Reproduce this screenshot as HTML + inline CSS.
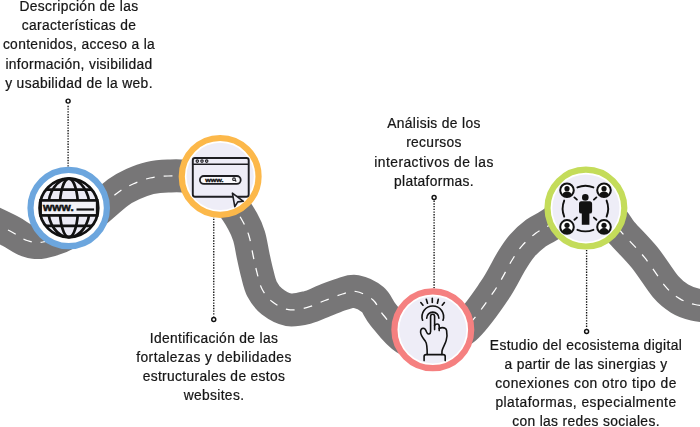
<!DOCTYPE html>
<html><head><meta charset="utf-8">
<style>
html,body{margin:0;padding:0;background:#fff;}
body{width:700px;height:427px;position:relative;overflow:hidden;}
svg{position:absolute;left:0;top:0;}
.t{position:absolute;font-family:"Liberation Sans",sans-serif;font-size:13.8px;letter-spacing:0.35px;line-height:19px;color:#161616;-webkit-text-stroke:0.22px #161616;text-align:center;white-space:nowrap;will-change:transform;}
</style></head><body>
<svg width="700" height="427" viewBox="0 0 700 427">
  <path d="M-15.0,219.0 C-10.8,221.0 3.0,227.4 10.0,231.0 C17.0,234.6 21.5,238.7 27.0,240.5 C32.5,242.3 35.8,243.4 43.0,242.0 C50.2,240.6 61.3,237.0 70.0,232.0 C78.7,227.0 87.0,218.6 95.0,212.0 C103.0,205.4 111.7,197.2 118.0,192.5 C124.3,187.8 127.7,186.4 133.0,184.0 C138.3,181.6 144.2,179.3 150.0,178.0 C155.8,176.7 161.3,176.2 168.0,176.0 C174.7,175.8 182.7,175.2 190.0,177.0 C197.3,178.8 205.2,182.5 212.0,187.0 C218.8,191.5 225.9,198.3 231.0,204.0 C236.1,209.7 239.5,215.7 242.5,221.0 C245.5,226.3 247.2,230.3 249.0,236.0 C250.8,241.7 251.7,248.9 253.0,255.0 C254.3,261.1 255.5,266.9 257.0,272.6 C258.5,278.3 259.5,284.2 262.0,289.0 C264.5,293.8 267.6,298.1 272.0,301.5 C276.4,304.9 282.7,308.7 288.6,309.7 C294.5,310.7 301.3,308.9 307.4,307.4 C313.5,305.9 319.1,302.7 325.0,300.5 C330.9,298.3 337.3,295.5 342.5,294.0 C347.7,292.5 350.9,290.6 356.0,291.5 C361.1,292.4 368.2,295.8 372.8,299.7 C377.4,303.6 377.9,308.6 383.3,315.0 C388.7,321.4 396.7,333.0 405.0,338.0 C413.3,343.0 423.0,346.7 433.0,345.0 C443.0,343.3 454.8,336.9 465.0,328.0 C475.2,319.1 486.2,302.5 494.0,291.3 C501.8,280.1 506.8,268.6 511.5,261.0 C516.2,253.4 517.9,250.5 522.0,245.8 C526.1,241.1 531.5,236.4 536.0,233.0 C540.5,229.6 543.7,228.9 549.0,225.5 C554.3,222.1 561.8,215.2 568.0,212.5 C574.2,209.8 579.0,208.1 586.0,209.0 C593.0,209.9 604.0,214.0 610.0,218.0 C616.0,222.0 616.2,226.2 622.0,232.8 C627.8,239.4 637.2,248.4 644.5,257.4 C651.8,266.4 659.8,279.8 665.6,286.7 C671.5,293.6 674.7,295.6 679.6,298.6 C684.5,301.6 688.9,303.1 694.8,304.5 C700.7,305.9 711.6,306.6 715.0,307.0" fill="none" stroke="#777677" stroke-width="33"/>
  <g fill="none" stroke="#fff" stroke-width="1.25" stroke-dasharray="8.8 9.2"><path d="M-15.0,219.0 C-10.8,221.0 3.0,227.4 10.0,231.0 C17.0,234.6 21.5,238.7 27.0,240.5 C32.5,242.3 35.8,243.4 43.0,242.0 C50.2,240.6 61.3,237.0 70.0,232.0" stroke-dashoffset="10.75"/><path d="M70.0,232.0 C78.7,227.0 87.0,218.6 95.0,212.0 C103.0,205.4 111.7,197.2 118.0,192.5 C124.3,187.8 127.7,186.4 133.0,184.0 C138.3,181.6 144.2,179.3 150.0,178.0 C155.8,176.7 161.3,176.2 168.0,176.0 C174.7,175.8 182.7,175.2 190.0,177.0 C197.3,178.8 205.2,182.5 212.0,187.0" stroke-dashoffset="14.5"/><path d="M212.0,187.0 C218.8,191.5 225.9,198.3 231.0,204.0 C236.1,209.7 239.5,215.7 242.5,221.0 C245.5,226.3 247.2,230.3 249.0,236.0 C250.8,241.7 251.7,248.9 253.0,255.0 C254.3,261.1 255.5,266.9 257.0,272.6 C258.5,278.3 259.5,284.2 262.0,289.0 C264.5,293.8 267.6,298.1 272.0,301.5 C276.4,304.9 282.7,308.7 288.6,309.7 C294.5,310.7 301.3,308.9 307.4,307.4 C313.5,305.9 319.1,302.7 325.0,300.5 C330.9,298.3 337.3,295.5 342.5,294.0 C347.7,292.5 350.9,290.6 356.0,291.5 C361.1,292.4 368.2,295.8 372.8,299.7 C377.4,303.6 377.9,308.6 383.3,315.0 C388.7,321.4 396.7,333.0 405.0,338.0 C413.3,343.0 423.0,346.7 433.0,345.0" stroke-dashoffset="12.9"/><path d="M433.0,345.0 C443.0,343.3 454.8,336.9 465.0,328.0 C475.2,319.1 486.2,302.5 494.0,291.3 C501.8,280.1 506.8,268.6 511.5,261.0 C516.2,253.4 517.9,250.5 522.0,245.8 C526.1,241.1 531.5,236.4 536.0,233.0 C540.5,229.6 543.7,228.9 549.0,225.5 C554.3,222.1 561.8,215.2 568.0,212.5 C574.2,209.8 579.0,208.1 586.0,209.0" stroke-dashoffset="10.8"/><path d="M586.0,209.0 C593.0,209.9 604.0,214.0 610.0,218.0 C616.0,222.0 616.2,226.2 622.0,232.8 C627.8,239.4 637.2,248.4 644.5,257.4 C651.8,266.4 659.8,279.8 665.6,286.7 C671.5,293.6 674.7,295.6 679.6,298.6 C684.5,301.6 688.9,303.1 694.8,304.5 C700.7,305.9 711.6,306.6 715.0,307.0" stroke-dashoffset="15.5"/></g>
  <!-- connectors -->
  <g stroke="#111" fill="none">
    <line x1="68.1" y1="105.8" x2="68.1" y2="168" stroke-width="1.35" stroke-dasharray="1.35 1.35"/>
    <circle cx="68.1" cy="101.1" r="2" stroke-width="1.45"/>
    <line x1="213.75" y1="216" x2="213.75" y2="316.5" stroke-width="1.35" stroke-dasharray="1.35 1.35"/>
    <circle cx="213.75" cy="319.5" r="2" stroke-width="1.45"/>
    <line x1="434.1" y1="200.6" x2="434.1" y2="289" stroke-width="1.35" stroke-dasharray="1.35 1.35"/>
    <circle cx="434.1" cy="197.4" r="2" stroke-width="1.45"/>
    <line x1="586.6" y1="250" x2="586.6" y2="328.5" stroke-width="1.35" stroke-dasharray="1.35 1.35"/>
    <circle cx="586.6" cy="331.5" r="2" stroke-width="1.45"/>
  </g>
  <!-- circles -->
  <g>
    <circle cx="68.7" cy="208" r="38.2" fill="#fff" stroke="#6ca6de" stroke-width="6.2"/>
    <circle cx="220.15" cy="176.4" r="38.4" fill="#fff" stroke="#fcb84a" stroke-width="6.2"/>
    <circle cx="220.15" cy="176.4" r="33.6" fill="#eeedf7"/>
    <circle cx="432.8" cy="329.8" r="38.4" fill="#fff" stroke="#f58080" stroke-width="6.2"/>
    <circle cx="432.8" cy="329.8" r="33.6" fill="#eeedf7"/>
    <circle cx="585.9" cy="208.1" r="38.4" fill="#fff" stroke="#c4dc5a" stroke-width="6.2"/>
    <circle cx="585.9" cy="208.1" r="33.6" fill="#eeedf7"/>
  </g>
  <!-- globe icon -->
  <g transform="translate(68.9,207.9)" stroke="#111" fill="none">
    <circle r="32" fill="#fff" stroke="none"/>
    <circle r="29.3" fill="#ecebf5" stroke-width="2.8"/>
    <ellipse rx="9.1" ry="29.3" stroke-width="2.7"/>
    <ellipse rx="20.8" ry="29.3" stroke-width="2.7"/>
    <line x1="-23.2" y1="-18.2" x2="23.2" y2="-18.2" stroke-width="2.7"/>
    <line x1="-23.2" y1="18" x2="23.2" y2="18" stroke-width="2.7"/>
    <rect x="-28.3" y="-7.5" width="56.6" height="15" fill="#f2f2f7" stroke-width="2.7"/>
    <text x="-25.8" y="3.1" font-family="Liberation Sans" font-weight="bold" font-size="11.5" fill="#111" stroke="#111" stroke-width="0.5" textLength="30.6" lengthAdjust="spacingAndGlyphs">www.</text>
    <line x1="7.6" y1="1.6" x2="25.2" y2="1.6" stroke-width="2.2"/>
  </g>
  <!-- browser icon -->
  <g stroke="#1e1e22" fill="none">
    <rect x="192.8" y="158" width="55.9" height="38.8" rx="2.2" stroke-width="1.9"/>
    <line x1="192.8" y1="164.3" x2="248.7" y2="164.3" stroke-width="1.6"/>
    <circle cx="197.3" cy="161.1" r="1.25" stroke-width="1.1"/>
    <circle cx="202" cy="161.1" r="1.25" stroke-width="1.1"/>
    <circle cx="206.7" cy="161.1" r="1.25" stroke-width="1.1"/>
    <rect x="199.9" y="176" width="40.8" height="7.9" rx="3.95" fill="#fafafd" stroke-width="1.8"/>
    <text transform="translate(205.2,181.8) scale(1,0.72)" font-family="Liberation Sans" font-weight="bold" font-size="8.6" fill="#111" stroke="#111" stroke-width="0.45" textLength="18.4" lengthAdjust="spacingAndGlyphs">www.</text>
    <circle cx="234" cy="179.2" r="1.35" stroke-width="1.1"/>
    <line x1="235" y1="180.2" x2="236.3" y2="181.5" stroke-width="1.1"/>
    <path d="M232.4,193.2 L234.8,206.6 L237.8,201.9 L243.4,201.3 Z" fill="#eeedf7" stroke-width="1.6" stroke-linejoin="round"/>
  </g>
  <!-- hand icon -->
  <g stroke="#111" fill="none" stroke-width="1.6" stroke-linecap="round" stroke-linejoin="round">
    <line x1="420.8" y1="302.6" x2="423" y2="305.2"/>
    <line x1="426.3" y1="299.3" x2="427.5" y2="303.3"/>
    <line x1="432.3" y1="298.4" x2="432.3" y2="302.5"/>
    <line x1="438.3" y1="299.3" x2="437.4" y2="303.3"/>
    <line x1="444.4" y1="302.6" x2="442.2" y2="305.2"/>
    <path d="M422.6,320.3 A10.8,10.8 0 1 1 443,320.3"/>
    <path d="M426.7,318.2 A6.1,6.1 0 1 1 438.9,318.2"/>
    <path d="M427.2,354.4 C427.2,349 427.2,344 425.6,341.6 C424,339 420.8,336 420.6,332.2 C420.4,329.6 421.8,328.2 423.2,328.2 C425,328.2 426,330.2 426.6,332 C427.2,333.6 428,334.2 429,334 C430,333.8 430.6,333 430.6,331.4 L430.6,316.4 C430.6,315 431.5,314.2 432.6,314.2 C433.7,314.2 434.6,315 434.6,316.4 L434.6,329.6"/>
    <path d="M434.6,325.6 C435,324.4 436.2,324 437.1,324 C438.3,324 439.2,324.8 439.2,326.2 L439.2,330.6"/>
    <path d="M439.2,328.6 C439.6,327.6 440.8,327.6 442.2,327.6 C444.2,327.6 446.2,328.4 446.6,330.6 C447.1,333.2 447.1,337.2 446.2,340.4 C445.4,343.8 442.4,348.4 442,351 L441.9,354.4"/>
    <path d="M424.1,360.6 L424.1,356.6 C424.1,355.2 424.8,354.6 426.1,354.6 L443.2,354.6 C444.5,354.6 445.2,355.2 445.2,356.6 L445.2,360.6"/>
  </g>
  <!-- social icon -->
  <g stroke="#111" fill="none" stroke-width="1.9" stroke-linecap="round">
    <path d="M577.4,187.4 A21.8,21.8 0 0 1 593.4,187.4"/>
    <path d="M577.4,229.8 A21.8,21.8 0 0 0 593.4,229.8"/>
    <path d="M564.2,200.6 A21.8,21.8 0 0 0 564.2,216.6"/>
    <path d="M606.6,200.6 A21.8,21.8 0 0 1 606.6,216.6"/>
    <line x1="574.4" y1="197.4" x2="576.9" y2="199.6"/>
    <line x1="596.4" y1="197.4" x2="593.9" y2="199.6"/>
    <line x1="574.4" y1="219.8" x2="576.9" y2="217.6"/>
    <line x1="596.4" y1="219.8" x2="593.9" y2="217.6"/>
  </g>
  <g fill="#111">
    <circle cx="585.3" cy="197.4" r="3.3"/>
    <path d="M581.4,201.2 L589.6,201.2 Q592.1,201.2 592.1,203.8 L592.1,211.4 Q592.1,213.6 589.6,213.6 L589.4,213.6 L589.4,224.8 L581.8,224.8 L581.8,213.6 L581.5,213.6 Q579,213.6 579,211.4 L579,203.8 Q579,201.2 581.4,201.2 Z"/>
  </g>
  <g transform="translate(567,190.3)">
    <circle r="8.8" fill="#eeedf7"/>
    <clipPath id="c567190"><circle r="6.4"/></clipPath>
    <circle r="6.8" fill="#fff" stroke="#111" stroke-width="2"/>
    <g clip-path="url(#c567190)" fill="#111"><circle cy="-1.6" r="2.6"/><ellipse cy="5.8" rx="5" ry="4.6"/></g>
  </g>
  <g transform="translate(604,190.3)">
    <circle r="8.8" fill="#eeedf7"/>
    <clipPath id="c604190"><circle r="6.4"/></clipPath>
    <circle r="6.8" fill="#fff" stroke="#111" stroke-width="2"/>
    <g clip-path="url(#c604190)" fill="#111"><circle cy="-1.6" r="2.6"/><ellipse cy="5.8" rx="5" ry="4.6"/></g>
  </g>
  <g transform="translate(567,226.9)">
    <circle r="8.8" fill="#eeedf7"/>
    <clipPath id="c567226"><circle r="6.4"/></clipPath>
    <circle r="6.8" fill="#fff" stroke="#111" stroke-width="2"/>
    <g clip-path="url(#c567226)" fill="#111"><circle cy="-1.6" r="2.6"/><ellipse cy="5.8" rx="5" ry="4.6"/></g>
  </g>
  <g transform="translate(604,226.9)">
    <circle r="8.8" fill="#eeedf7"/>
    <clipPath id="c604226"><circle r="6.4"/></clipPath>
    <circle r="6.8" fill="#fff" stroke="#111" stroke-width="2"/>
    <g clip-path="url(#c604226)" fill="#111"><circle cy="-1.6" r="2.6"/><ellipse cy="5.8" rx="5" ry="4.6"/></g>
  </g>
  
</svg>
<div class="t" style="left:-21.5px;width:200px;top:-3.2px;line-height:19.2px">Descripción de las<br>características de<br>contenidos, acceso a la<br>información, visibilidad<br>y usabilidad de la web.</div>
<div class="t" style="left:113.5px;width:200px;top:328.8px">Identificación de las<br><span style="letter-spacing:0.48px">fortalezas y debilidades</span><br>estructurales de estos<br>websites.</div>
<div class="t" style="left:334.3px;width:200px;top:113.6px;line-height:19.4px">Análisis de los<br>recursos<br><span style="letter-spacing:0.48px">interactivos de las</span><br>plataformas.</div>
<div class="t" style="left:485.8px;width:200px;top:337.1px;line-height:18.9px">Estudio del ecosistema digital<br>a partir de las sinergias y<br><span style="letter-spacing:0.48px">conexiones con otro tipo de</span><br><span style="letter-spacing:0.48px">plataformas, especialmente</span><br>con las redes sociales.</div>
</body></html>
